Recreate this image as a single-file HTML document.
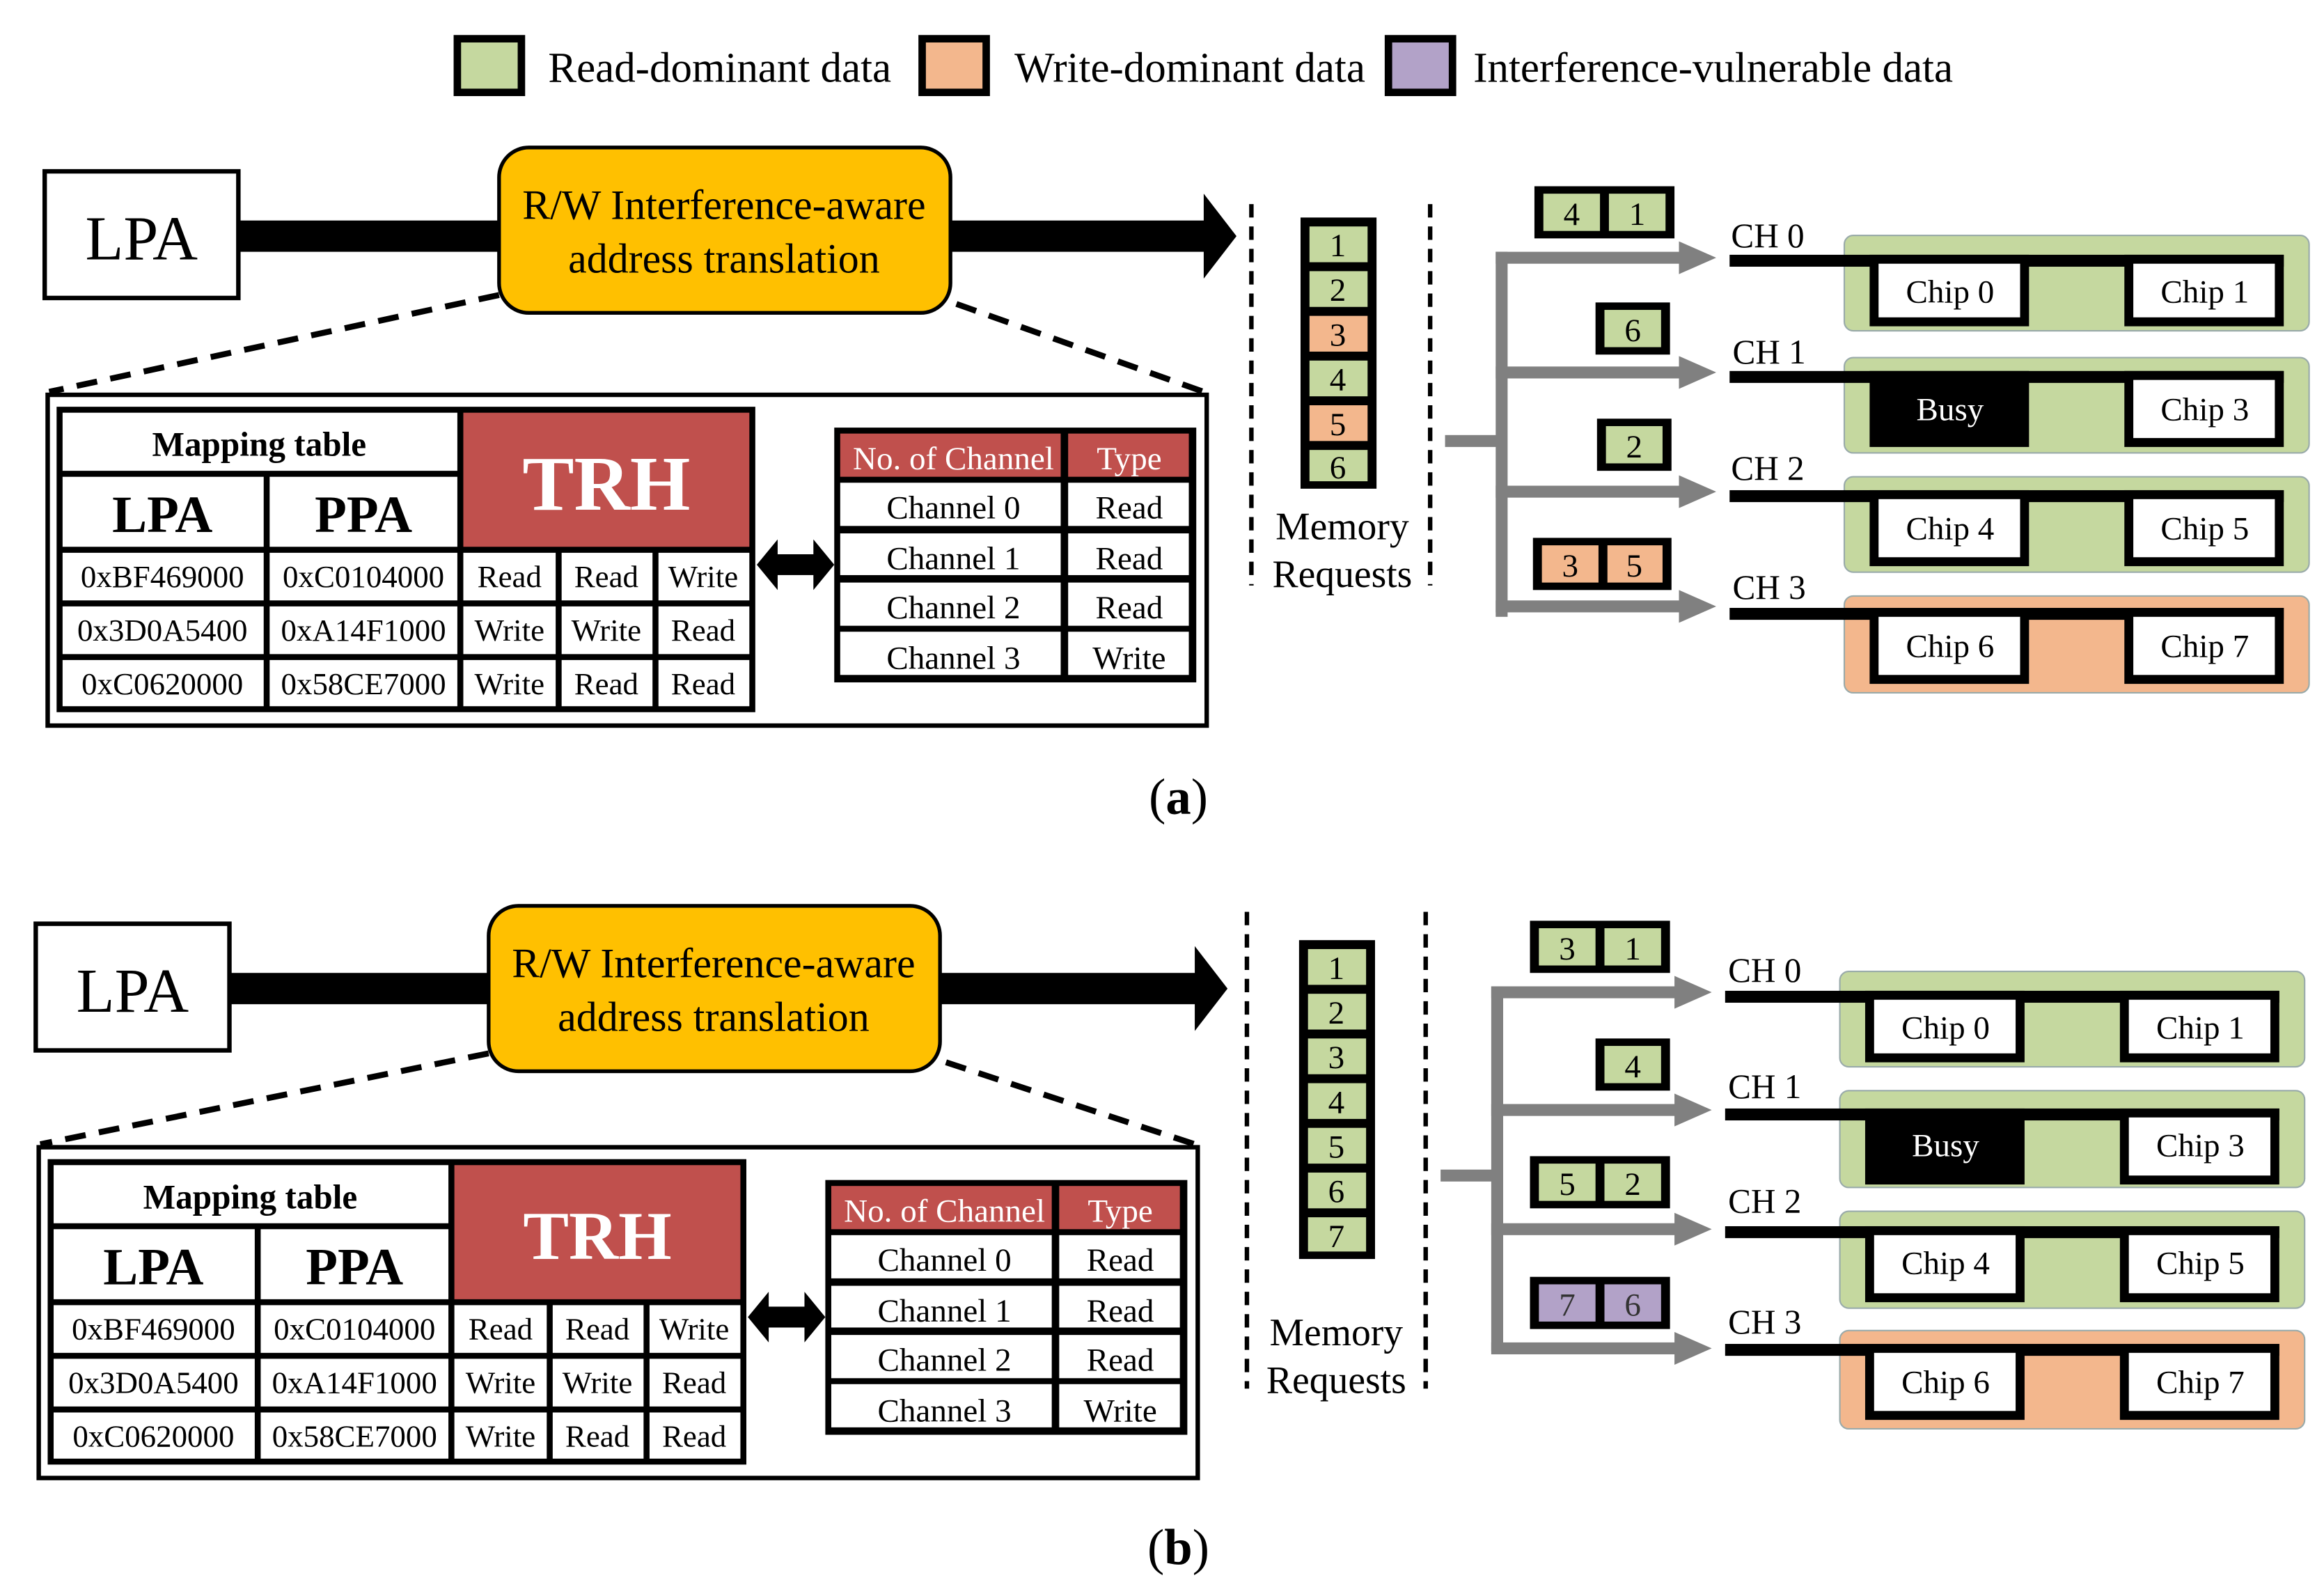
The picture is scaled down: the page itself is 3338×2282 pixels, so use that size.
<!DOCTYPE html>
<html><head><meta charset="utf-8"><style>
html,body{margin:0;padding:0;background:#fff;}
svg{display:block;}
text{font-family:"Liberation Serif",serif;}
</style></head><body>
<svg width="3338" height="2282" viewBox="0 0 1560 1066.5" preserveAspectRatio="none" xmlns="http://www.w3.org/2000/svg">
<!-- Legend -->
<rect x="307" y="26" width="43" height="36" fill="#C5D89F" stroke="#000" stroke-width="5"/>
<text x="368" y="55" font-size="28.5">Read-dominant data</text>
<rect x="619" y="26" width="43" height="36" fill="#F3B78D" stroke="#000" stroke-width="5"/>
<text x="681" y="55" font-size="28.5">Write-dominant data</text>
<rect x="932" y="26" width="43" height="36" fill="#B2A2C8" stroke="#000" stroke-width="5"/>
<text x="989" y="55" font-size="28.5">Interference-vulnerable data</text>

<!-- ===== PART A LEFT ===== -->
<g>
<rect x="30" y="115" width="130" height="85" fill="#fff" stroke="#000" stroke-width="3"/>
<text x="95" y="174" font-size="42" text-anchor="middle">LPA</text>
<rect x="160" y="148" width="176" height="21" fill="#000"/>
<rect x="636" y="148" width="174" height="21" fill="#000"/>
<polygon points="808,130 830,158.5 808,187" fill="#000"/>
<rect x="335" y="99" width="303" height="111" rx="20" fill="#FFC000" stroke="#000" stroke-width="2.5"/>
<text x="486" y="147" font-size="28" text-anchor="middle">R/W Interference-aware</text>
<text x="486" y="183" font-size="28" text-anchor="middle">address translation</text>
<line x1="335" y1="198" x2="33" y2="263" stroke="#000" stroke-width="4" stroke-dasharray="14,9"/>
<line x1="642" y1="204" x2="808" y2="263" stroke="#000" stroke-width="4" stroke-dasharray="14,9"/>
<rect x="32" y="265" width="778" height="222" fill="#fff" stroke="#000" stroke-width="3"/>
<rect x="309" y="274" width="196" height="95" fill="#C0504D"/>
<g fill="none" stroke="#000" stroke-width="4">
<rect x="40" y="275" width="465" height="201"/>
<line x1="40" y1="318" x2="309" y2="318"/>
<line x1="40" y1="369" x2="505" y2="369"/>
<line x1="40" y1="405" x2="505" y2="405"/>
<line x1="40" y1="441" x2="505" y2="441"/>
<line x1="179" y1="318" x2="179" y2="476"/>
<line x1="309" y1="275" x2="309" y2="476"/>
<line x1="375" y1="369" x2="375" y2="476"/>
<line x1="440" y1="369" x2="440" y2="476"/>
</g>
<text x="174" y="306" font-size="23" font-weight="bold" text-anchor="middle">Mapping table</text>
<text x="109" y="357" font-size="35" font-weight="bold" text-anchor="middle">LPA</text>
<text x="244" y="357" font-size="35" font-weight="bold" text-anchor="middle">PPA</text>
<text x="407" y="342" font-size="52" font-weight="bold" fill="#fff" text-anchor="middle">TRH</text>
<g font-size="21" text-anchor="middle">
<text x="109" y="394">0xBF469000</text><text x="244" y="394">0xC0104000</text><text x="342" y="394">Read</text><text x="407" y="394">Read</text><text x="472" y="394">Write</text>
<text x="109" y="430">0x3D0A5400</text><text x="244" y="430">0xA14F1000</text><text x="342" y="430">Write</text><text x="407" y="430">Write</text><text x="472" y="430">Read</text>
<text x="109" y="466">0xC0620000</text><text x="244" y="466">0x58CE7000</text><text x="342" y="466">Write</text><text x="407" y="466">Read</text><text x="472" y="466">Read</text>
</g>
<polygon points="508,379 522,362 522,372 546,372 546,362 560,379 546,396 546,386 522,386 522,396" fill="#000"/>
<rect x="560" y="287" width="243" height="171" fill="#000"/>
<rect x="564" y="291" width="148" height="29" fill="#C0504D"/>
<rect x="717" y="291" width="81" height="29" fill="#C0504D"/>
<g fill="#fff">
<rect x="564" y="324" width="148" height="29"/><rect x="717" y="324" width="81" height="29"/>
<rect x="564" y="358" width="148" height="28"/><rect x="717" y="358" width="81" height="28"/>
<rect x="564" y="391" width="148" height="29"/><rect x="717" y="391" width="81" height="29"/>
<rect x="564" y="424" width="148" height="29"/><rect x="717" y="424" width="81" height="29"/>
</g>
<g font-size="22" text-anchor="middle">
<text x="640" y="315" fill="#fff">No. of Channel</text><text x="758" y="315" fill="#fff">Type</text>
<text x="640" y="348">Channel 0</text><text x="758" y="348">Read</text>
<text x="640" y="382">Channel 1</text><text x="758" y="382">Read</text>
<text x="640" y="415">Channel 2</text><text x="758" y="415">Read</text>
<text x="640" y="449">Channel 3</text><text x="758" y="449">Write</text>
</g>
</g>

<!-- ===== PART A MIDDLE ===== -->
<line x1="840" y1="137" x2="840" y2="393" stroke="#000" stroke-width="3" stroke-dasharray="9,6"/>
<line x1="960" y1="137" x2="960" y2="393" stroke="#000" stroke-width="3" stroke-dasharray="9,6"/>
<rect x="873" y="146" width="51" height="182" fill="#000"/>
<rect x="879" y="152" width="39" height="24" fill="#C5D89F"/>
<rect x="879" y="182" width="39" height="24" fill="#C5D89F"/>
<rect x="879" y="212" width="39" height="24" fill="#F3B78D"/>
<rect x="879" y="242" width="39" height="24" fill="#C5D89F"/>
<rect x="879" y="272" width="39" height="24" fill="#F3B78D"/>
<rect x="879" y="302" width="39" height="21" fill="#C5D89F"/>
<g font-size="22" text-anchor="middle">
<text x="898" y="172">1</text><text x="898" y="202">2</text><text x="898" y="232">3</text>
<text x="898" y="262">4</text><text x="898" y="292">5</text><text x="898" y="321">6</text>
</g>
<text x="901" y="362" font-size="26" text-anchor="middle">Memory</text>
<text x="901" y="394" font-size="26" text-anchor="middle">Requests</text>

<!-- ===== PART A RIGHT ===== -->
<g>
<rect x="970" y="292" width="38" height="8" fill="#808080"/>
<rect x="1004" y="169" width="8" height="245" fill="#808080"/>
<g fill="#808080">
<rect x="1004" y="169" width="125" height="8"/><polygon points="1127,162 1152,173 1127,184"/>
<rect x="1004" y="246" width="125" height="8"/><polygon points="1127,239 1152,250 1127,261"/>
<rect x="1004" y="326" width="125" height="8"/><polygon points="1127,319 1152,330 1127,341"/>
<rect x="1004" y="403" width="125" height="8"/><polygon points="1127,396 1152,407 1127,418"/>
</g>
<rect x="1030" y="125" width="94" height="35" fill="#000"/>
<rect x="1036" y="130" width="38" height="25" fill="#C5D89F"/><rect x="1080" y="130" width="38" height="25" fill="#C5D89F"/>
<rect x="1071" y="203" width="50" height="35" fill="#000"/><rect x="1077" y="208" width="38" height="25" fill="#C5D89F"/>
<rect x="1072" y="281" width="50" height="35" fill="#000"/><rect x="1078" y="286" width="38" height="25" fill="#C5D89F"/>
<rect x="1029" y="361" width="93" height="35" fill="#000"/>
<rect x="1035" y="366" width="38" height="25" fill="#F3B78D"/><rect x="1079" y="366" width="37" height="25" fill="#F3B78D"/>
<g font-size="22" text-anchor="middle">
<text x="1055" y="151">4</text><text x="1099" y="151">1</text>
<text x="1096" y="229">6</text><text x="1097" y="307">2</text>
<text x="1054" y="387">3</text><text x="1097" y="387">5</text>
</g>
<g font-size="23">
<text x="1162" y="166">CH 0</text><text x="1163" y="244">CH 1</text>
<text x="1162" y="322">CH 2</text><text x="1163" y="402">CH 3</text>
</g>
<rect x="1238" y="158" width="312" height="64" rx="6" fill="#C5D89F" stroke="#9aa" stroke-width="1"/>
<rect x="1238" y="240" width="312" height="64" rx="6" fill="#C5D89F" stroke="#9aa" stroke-width="1"/>
<rect x="1238" y="320" width="312" height="64" rx="6" fill="#C5D89F" stroke="#9aa" stroke-width="1"/>
<rect x="1238" y="400" width="312" height="65" rx="6" fill="#F3B78D" stroke="#9aa" stroke-width="1"/>
<g fill="#000">
<rect x="1161" y="171" width="372" height="8"/>
<rect x="1161" y="249" width="372" height="8"/>
<rect x="1161" y="329" width="372" height="8"/>
<rect x="1161" y="408" width="372" height="8"/>
</g>
<g fill="#fff" stroke="#000" stroke-width="6">
<rect x="1258" y="174" width="101" height="42"/><rect x="1429" y="174" width="101" height="42"/>
<rect x="1258" y="252" width="101" height="45" fill="#000"/><rect x="1429" y="252" width="101" height="45"/>
<rect x="1258" y="332" width="101" height="45"/><rect x="1429" y="332" width="101" height="45"/>
<rect x="1258" y="411" width="101" height="45"/><rect x="1429" y="411" width="101" height="45"/>
</g>
<g font-size="22" text-anchor="middle">
<text x="1309" y="203">Chip 0</text><text x="1480" y="203">Chip 1</text>
<text x="1309" y="282" fill="#fff">Busy</text><text x="1480" y="282">Chip 3</text>
<text x="1309" y="362">Chip 4</text><text x="1480" y="362">Chip 5</text>
<text x="1309" y="441">Chip 6</text><text x="1480" y="441">Chip 7</text>
</g>
</g>

<text x="791" y="546" font-size="34" text-anchor="middle">(<tspan font-weight="bold">a</tspan>)</text>

<!-- ===== PART B LEFT ===== -->
<g transform="translate(-6,505)">
<rect x="30" y="115" width="130" height="85" fill="#fff" stroke="#000" stroke-width="3"/>
<text x="95" y="174" font-size="42" text-anchor="middle">LPA</text>
<rect x="160" y="148" width="176" height="21" fill="#000"/>
<rect x="636" y="148" width="174" height="21" fill="#000"/>
<polygon points="808,130 830,158.5 808,187" fill="#000"/>
<rect x="334" y="103" width="303" height="111" rx="20" fill="#FFC000" stroke="#000" stroke-width="2.5"/>
<text x="485" y="151" font-size="28" text-anchor="middle">R/W Interference-aware</text>
<text x="485" y="187" font-size="28" text-anchor="middle">address translation</text>
<line x1="334" y1="202" x2="33" y2="263" stroke="#000" stroke-width="4" stroke-dasharray="14,9"/>
<line x1="641" y1="208" x2="808" y2="263" stroke="#000" stroke-width="4" stroke-dasharray="14,9"/>
<rect x="32" y="265" width="778" height="222" fill="#fff" stroke="#000" stroke-width="3"/>
<rect x="309" y="274" width="196" height="95" fill="#C0504D"/>
<g fill="none" stroke="#000" stroke-width="4">
<rect x="40" y="275" width="465" height="201"/>
<line x1="40" y1="318" x2="309" y2="318"/>
<line x1="40" y1="369" x2="505" y2="369"/>
<line x1="40" y1="405" x2="505" y2="405"/>
<line x1="40" y1="441" x2="505" y2="441"/>
<line x1="179" y1="318" x2="179" y2="476"/>
<line x1="309" y1="275" x2="309" y2="476"/>
<line x1="375" y1="369" x2="375" y2="476"/>
<line x1="440" y1="369" x2="440" y2="476"/>
</g>
<text x="174" y="306" font-size="23" font-weight="bold" text-anchor="middle">Mapping table</text>
<text x="109" y="357" font-size="35" font-weight="bold" text-anchor="middle">LPA</text>
<text x="244" y="357" font-size="35" font-weight="bold" text-anchor="middle">PPA</text>
<text x="407" y="340" font-size="46" font-weight="bold" fill="#fff" text-anchor="middle">TRH</text>
<g font-size="21" text-anchor="middle">
<text x="109" y="394">0xBF469000</text><text x="244" y="394">0xC0104000</text><text x="342" y="394">Read</text><text x="407" y="394">Read</text><text x="472" y="394">Write</text>
<text x="109" y="430">0x3D0A5400</text><text x="244" y="430">0xA14F1000</text><text x="342" y="430">Write</text><text x="407" y="430">Write</text><text x="472" y="430">Read</text>
<text x="109" y="466">0xC0620000</text><text x="244" y="466">0x58CE7000</text><text x="342" y="466">Write</text><text x="407" y="466">Read</text><text x="472" y="466">Read</text>
</g>
<polygon points="508,379 522,362 522,372 546,372 546,362 560,379 546,396 546,386 522,386 522,396" fill="#000"/>
<rect x="560" y="287" width="243" height="171" fill="#000"/>
<rect x="564" y="291" width="148" height="29" fill="#C0504D"/>
<rect x="717" y="291" width="81" height="29" fill="#C0504D"/>
<g fill="#fff">
<rect x="564" y="324" width="148" height="29"/><rect x="717" y="324" width="81" height="29"/>
<rect x="564" y="358" width="148" height="28"/><rect x="717" y="358" width="81" height="28"/>
<rect x="564" y="391" width="148" height="29"/><rect x="717" y="391" width="81" height="29"/>
<rect x="564" y="424" width="148" height="29"/><rect x="717" y="424" width="81" height="29"/>
</g>
<g font-size="22" text-anchor="middle">
<text x="640" y="315" fill="#fff">No. of Channel</text><text x="758" y="315" fill="#fff">Type</text>
<text x="640" y="348">Channel 0</text><text x="758" y="348">Read</text>
<text x="640" y="382">Channel 1</text><text x="758" y="382">Read</text>
<text x="640" y="415">Channel 2</text><text x="758" y="415">Read</text>
<text x="640" y="449">Channel 3</text><text x="758" y="449">Write</text>
</g>
</g>

<!-- ===== PART B MIDDLE ===== -->
<line x1="837" y1="612" x2="837" y2="932" stroke="#000" stroke-width="3" stroke-dasharray="9,6"/>
<line x1="957" y1="612" x2="957" y2="932" stroke="#000" stroke-width="3" stroke-dasharray="9,6"/>
<rect x="872" y="631" width="51" height="214" fill="#000"/>
<g fill="#C5D89F">
<rect x="878" y="637" width="39" height="24"/>
<rect x="878" y="667" width="39" height="24"/>
<rect x="878" y="697" width="39" height="24"/>
<rect x="878" y="727" width="39" height="24"/>
<rect x="878" y="757" width="39" height="24"/>
<rect x="878" y="787" width="39" height="24"/>
<rect x="878" y="817" width="39" height="23"/>
</g>
<g font-size="22" text-anchor="middle">
<text x="897" y="657">1</text><text x="897" y="687">2</text><text x="897" y="717">3</text>
<text x="897" y="747">4</text><text x="897" y="777">5</text><text x="897" y="807">6</text><text x="897" y="837">7</text>
</g>
<text x="897" y="903" font-size="26" text-anchor="middle">Memory</text>
<text x="897" y="935" font-size="26" text-anchor="middle">Requests</text>

<!-- ===== PART B RIGHT ===== -->
<g transform="translate(-3,493)">
<rect x="970" y="292" width="38" height="8" fill="#808080"/>
<rect x="1004" y="169" width="8" height="245" fill="#808080"/>
<g fill="#808080">
<rect x="1004" y="169" width="125" height="8"/><polygon points="1127,162 1152,173 1127,184"/>
<rect x="1004" y="248" width="125" height="8"/><polygon points="1127,241 1152,252 1127,263"/>
<rect x="1004" y="328" width="125" height="8"/><polygon points="1127,321 1152,332 1127,343"/>
<rect x="1004" y="408" width="125" height="8"/><polygon points="1127,401 1152,412 1127,423"/>
</g>
<rect x="1030" y="125" width="94" height="35" fill="#000"/>
<rect x="1036" y="130" width="38" height="25" fill="#C5D89F"/><rect x="1080" y="130" width="38" height="25" fill="#C5D89F"/>
<rect x="1074" y="204" width="50" height="35" fill="#000"/><rect x="1080" y="209" width="38" height="25" fill="#C5D89F"/>
<rect x="1030" y="283" width="94" height="35" fill="#000"/>
<rect x="1036" y="288" width="38" height="25" fill="#C5D89F"/><rect x="1080" y="288" width="38" height="25" fill="#C5D89F"/>
<rect x="1030" y="364" width="94" height="35" fill="#000"/>
<rect x="1036" y="369" width="38" height="25" fill="#B2A2C8"/><rect x="1080" y="369" width="38" height="25" fill="#B2A2C8"/>
<g font-size="22" text-anchor="middle">
<text x="1055" y="151">3</text><text x="1099" y="151">1</text>
<text x="1099" y="230">4</text>
<text x="1055" y="309">5</text><text x="1099" y="309">2</text>
<text x="1055" y="390" fill="#333">7</text><text x="1099" y="390" fill="#333">6</text>
</g>
<g font-size="23">
<text x="1163" y="166">CH 0</text><text x="1163" y="244">CH 1</text>
<text x="1163" y="321">CH 2</text><text x="1163" y="402">CH 3</text>
</g>
<rect x="1238" y="159" width="312" height="64" rx="6" fill="#C5D89F" stroke="#9aa" stroke-width="1"/>
<rect x="1238" y="239" width="312" height="65" rx="6" fill="#C5D89F" stroke="#9aa" stroke-width="1"/>
<rect x="1238" y="320" width="312" height="65" rx="6" fill="#C5D89F" stroke="#9aa" stroke-width="1"/>
<rect x="1238" y="400" width="312" height="66" rx="6" fill="#F3B78D" stroke="#9aa" stroke-width="1"/>
<g fill="#000">
<rect x="1161" y="172" width="372" height="8"/>
<rect x="1161" y="251" width="372" height="8"/>
<rect x="1161" y="330" width="372" height="8"/>
<rect x="1161" y="409" width="372" height="8"/>
</g>
<g fill="#fff" stroke="#000" stroke-width="6">
<rect x="1258" y="175" width="101" height="42"/><rect x="1429" y="175" width="101" height="42"/>
<rect x="1258" y="254" width="101" height="45" fill="#000"/><rect x="1429" y="254" width="101" height="45"/>
<rect x="1258" y="333" width="101" height="45"/><rect x="1429" y="333" width="101" height="45"/>
<rect x="1258" y="412" width="101" height="45"/><rect x="1429" y="412" width="101" height="45"/>
</g>
<g font-size="22" text-anchor="middle">
<text x="1309" y="204">Chip 0</text><text x="1480" y="204">Chip 1</text>
<text x="1309" y="283" fill="#fff">Busy</text><text x="1480" y="283">Chip 3</text>
<text x="1309" y="362">Chip 4</text><text x="1480" y="362">Chip 5</text>
<text x="1309" y="442">Chip 6</text><text x="1480" y="442">Chip 7</text>
</g>
</g>

<text x="791" y="1050" font-size="34" text-anchor="middle">(<tspan font-weight="bold">b</tspan>)</text>
</svg>
</body></html>
